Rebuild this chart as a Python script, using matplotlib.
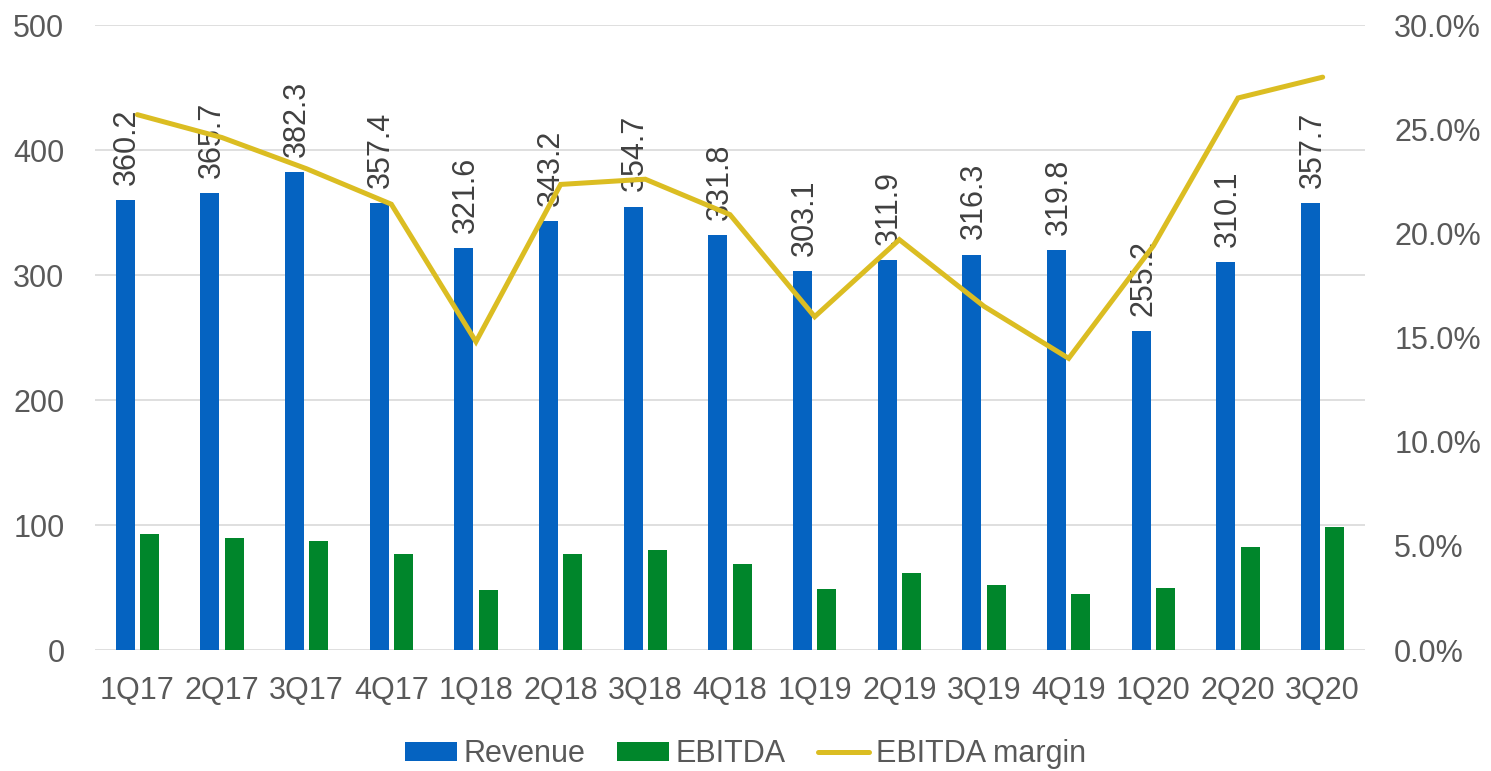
import numpy as np
import matplotlib
matplotlib.use("Agg")
import matplotlib.pyplot as plt
from matplotlib.ticker import FuncFormatter

# Données
trimestres = ["1Q17", "2Q17", "3Q17", "4Q17", "1Q18", "2Q18", "3Q18", "4Q18",
              "1Q19", "2Q19", "3Q19", "4Q19", "1Q20", "2Q20", "3Q20"]
revenue = [360.2, 365.7, 382.3, 357.4, 321.6, 343.2, 354.7, 331.8,
           303.1, 311.9, 316.3, 319.8, 255.2, 310.1, 357.7]
ebitda = [92.5, 89.6, 87.5, 76.8, 48.0, 77.1, 80.0, 69.1,
          48.5, 61.6, 51.7, 44.8, 49.6, 82.1, 98.7]
marge = [25.7, 24.6, 23.1, 21.4, 14.8, 22.35, 22.6, 20.9,
         16.0, 19.7, 16.5, 14.0, 19.4, 26.5, 27.5]

BLEU = "#0563C1"
VERT = "#00862B"
JAUNE = "#DBBD22"
GRIS = "#595959"
FS = 22

plt.rcParams["font.family"] = ["Liberation Sans", "DejaVu Sans"]

fig = plt.figure(figsize=(14.91, 7.71), dpi=100)
ax = fig.add_axes([0.0637, 0.1569, 0.8518, 0.8106])

x = np.arange(len(trimestres))
w = 0.226
dx = 0.1445

ax.bar(x - dx, revenue, w, color=BLEU, label="Revenue", zorder=2)
ax.bar(x + dx, ebitda, w, color=VERT, label="EBITDA", zorder=2)

# étiquettes verticales au-dessus des barres Revenue
for xi, v in zip(x, revenue):
    ax.annotate(f"{v:.1f}", (xi - dx, v), xytext=(1.5, 11), textcoords="offset points",
                rotation=90, ha="center", va="bottom", fontsize=FS, color="#404040")

ax.set_xlim(-0.5, len(trimestres) - 0.5)
ax.set_ylim(0, 500)
ax.set_yticks(range(0, 501, 100))
ax.set_xticks(x)
ax.set_xticklabels(trimestres)
ax.grid(axis="y", color="#D9D9D9", linewidth=1.2, zorder=0)
ax.set_axisbelow(True)
for s in ax.spines.values():
    s.set_visible(False)
ax.tick_params(axis="both", length=0, labelsize=FS, labelcolor=GRIS)
ax.tick_params(axis="x", pad=19)
ax.tick_params(axis="y", pad=22)

ax2 = ax.twinx()
ligne, = ax2.plot(x, np.array(marge) / 100, color=JAUNE, linewidth=3.6,
                  solid_joinstyle="miter", solid_capstyle="round", label="EBITDA margin")
ax2.set_ylim(0, 0.30)
ax2.set_yticks(np.arange(0, 0.301, 0.05))
ax2.yaxis.set_major_formatter(FuncFormatter(lambda v, p: f"{v*100:.1f}%"))
for s in ax2.spines.values():
    s.set_visible(False)
ax2.tick_params(axis="y", length=0, labelsize=FS, labelcolor=GRIS, pad=21)

h1, l1 = ax.get_legend_handles_labels()
fig.legend(h1 + [ligne], l1 + ["EBITDA margin"], loc="center", bbox_to_anchor=(0.5, 0.022),
           ncol=3, frameon=False, fontsize=FS, labelcolor=GRIS, handlelength=1.7,
           handleheight=0.59, handletextpad=0.2, columnspacing=1.05, borderpad=0)

fig.savefig("out.png", dpi=100)
